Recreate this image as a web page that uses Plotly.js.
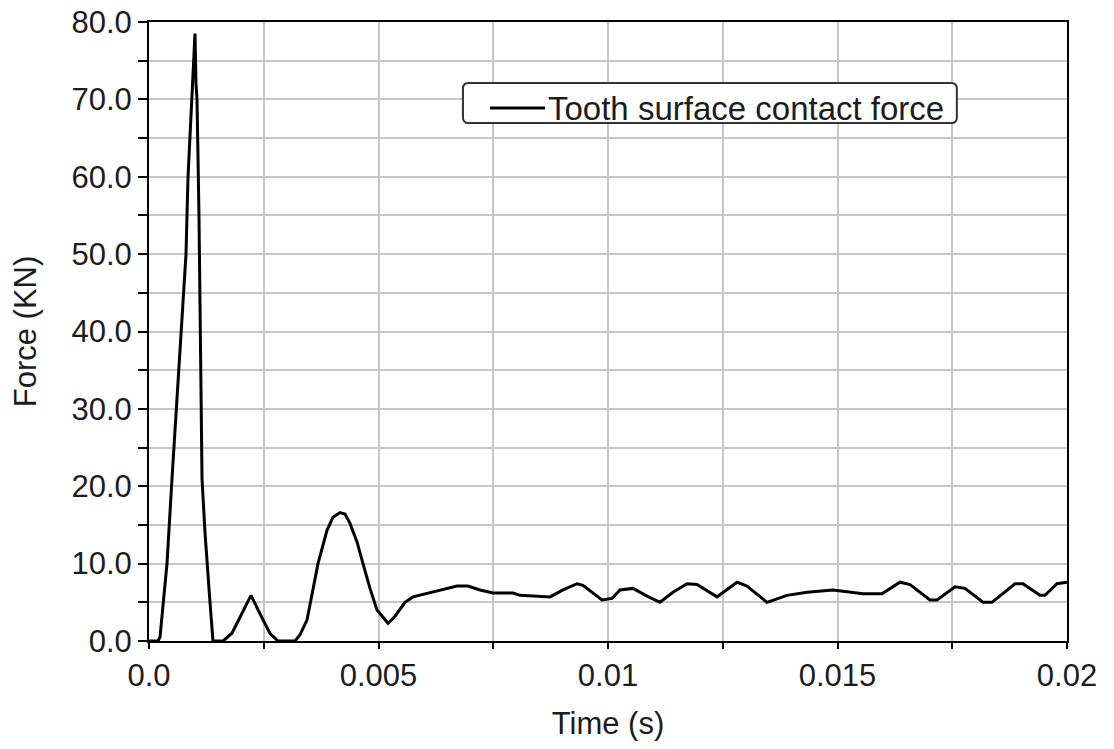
<!DOCTYPE html>
<html>
<head>
<meta charset="utf-8">
<script src="https://cdn.plot.ly/plotly-3.0.1.min.js"></script>
<style>
  html, body { margin: 0; padding: 0; background: #ffffff; }
  #chart { width: 1114px; height: 749px; }
</style>
</head>
<body>
<div id="chart"></div>
<script>
// Time (s)
const timeS = [
  0, 0.000196, 0.000240, 0.000305, 0.000392, 0.000501, 0.000654, 0.000806, 0.000850, 0.000937,
  0.000980, 0.001002, 0.001024, 0.001046, 0.001089, 0.001133, 0.001155, 0.001220, 0.001264, 0.001329,
  0.001394, 0.001612, 0.001808, 0.002026, 0.002222, 0.002462, 0.002636, 0.002810, 0.003181, 0.003290,
  0.003442, 0.003551, 0.003682, 0.003878, 0.004009, 0.004161, 0.004270, 0.004379, 0.004532, 0.004662,
  0.004815, 0.004967, 0.005207, 0.005359, 0.005577, 0.005752, 0.006187, 0.006710, 0.006950, 0.007211,
  0.007495, 0.007930, 0.008083, 0.008736, 0.009020, 0.009325, 0.009455, 0.009869, 0.010087, 0.010261,
  0.010545, 0.010850, 0.011133, 0.011416, 0.011721, 0.011939, 0.012375, 0.012810, 0.013028, 0.013464,
  0.013900, 0.014336, 0.014902, 0.015272, 0.015556, 0.015970, 0.016362, 0.016580, 0.017015, 0.017168,
  0.017560, 0.017778, 0.018170, 0.018366, 0.018867, 0.019041, 0.019412, 0.019521, 0.019782, 0.020000
];
// Tooth surface contact force (KN)
const forceKN = [
  0, 0, 0.5, 5, 10, 21, 35, 50, 60, 70,
  75, 78.5, 72, 70, 55, 35, 21, 14, 10, 5,
  0, 0, 1, 3.5, 5.9, 3.0, 1, 0, 0, 0.8,
  2.7, 6, 10, 14.3, 16.0, 16.6, 16.4, 15.2, 12.8, 10,
  6.8, 4, 2.3, 3.2, 5.0, 5.7, 6.3, 7.1, 7.1, 6.6,
  6.2, 6.2, 5.9, 5.7, 6.6, 7.4, 7.2, 5.3, 5.5, 6.6,
  6.8, 5.8, 5.0, 6.3, 7.4, 7.3, 5.7, 7.6, 7.1, 5.0,
  5.9, 6.3, 6.6, 6.3, 6.1, 6.1, 7.6, 7.3, 5.3, 5.3,
  7.0, 6.8, 5.0, 5.0, 7.4, 7.4, 5.9, 5.9, 7.4, 7.6
];
const xTickVals = [0, 0.0025, 0.005, 0.0075, 0.01, 0.0125, 0.015, 0.0175, 0.02];
const xTickText = ["0.0", "", "0.005", "", "0.01", "", "0.015", "", "0.02"];
const yTickVals = [0, 5, 10, 15, 20, 25, 30, 35, 40, 45, 50, 55, 60, 65, 70, 75, 80];
const yTickText = ["0.0", "", "10.0", "", "20.0", "", "30.0", "", "40.0", "", "50.0", "", "60.0", "", "70.0", "", "80.0"];
const seriesName = "Tooth surface contact force";

const FONT = "Liberation Sans, Arial, sans-serif";
const TXT = "#1c1c1c";

const trace = {
  x: timeS,
  y: forceKN,
  type: "scatter",
  mode: "lines",
  name: seriesName,
  line: { color: "#000000", width: 3 },
  showlegend: false
};

// legend box drawn in paper space (rounded rectangle), sample line and label
const lx0 = 0.342, lx1 = 0.880, ly0 = 0.8368, ly1 = 0.9015, rx = 0.006, ry = 0.009;
const legendPath =
  `M ${lx0 + rx} ${ly1} L ${lx1 - rx} ${ly1} Q ${lx1} ${ly1} ${lx1} ${ly1 - ry} ` +
  `L ${lx1} ${ly0 + ry} Q ${lx1} ${ly0} ${lx1 - rx} ${ly0} ` +
  `L ${lx0 + rx} ${ly0} Q ${lx0} ${ly0} ${lx0} ${ly0 + ry} ` +
  `L ${lx0} ${ly1 - ry} Q ${lx0} ${ly1} ${lx0 + rx} ${ly1} Z`;

const layout = {
  width: 1114,
  height: 749,
  margin: { l: 149, r: 47, t: 22, b: 108, pad: 0 },
  paper_bgcolor: "#ffffff",
  plot_bgcolor: "#ffffff",
  font: { family: FONT, color: TXT, size: 31 },
  showlegend: false,
  xaxis: {
    range: [0, 0.02],
    tickvals: xTickVals,
    ticktext: xTickText,
    ticks: "outside",
    ticklen: 6,
    tickwidth: 2,
    tickcolor: "#000",
    showgrid: true,
    gridcolor: "#c6c6c6",
    gridwidth: 2,
    showline: true,
    linecolor: "#000",
    linewidth: 2,
    mirror: true,
    zeroline: false,
    tickfont: { family: FONT, size: 31, color: TXT },
    title: { text: "Time (s)", font: { family: FONT, size: 31, color: TXT }, standoff: 20 },
    automargin: false
  },
  yaxis: {
    range: [0, 80],
    tickvals: yTickVals,
    ticktext: yTickText,
    ticks: "outside",
    ticklen: 9,
    tickwidth: 2,
    tickcolor: "#000",
    showgrid: true,
    gridcolor: "#c6c6c6",
    gridwidth: 2,
    showline: true,
    linecolor: "#000",
    linewidth: 2,
    mirror: true,
    zeroline: false,
    tickfont: { family: FONT, size: 31, color: TXT },
    title: { text: "Force (KN)", font: { family: FONT, size: 31, color: TXT }, standoff: 26 },
    automargin: false
  },
  shapes: [
    {
      type: "path", xref: "paper", yref: "paper", path: legendPath,
      fillcolor: "#ffffff", line: { color: "#333333", width: 2 }, layer: "above"
    },
    {
      type: "line", xref: "paper", yref: "paper",
      x0: 0.3715, x1: 0.4314, y0: 0.861, y1: 0.861,
      line: { color: "#000000", width: 3 }, layer: "above"
    }
  ],
  annotations: [
    {
      xref: "paper", yref: "paper", x: 0.4325, y: 0.860,
      xanchor: "left", yanchor: "middle", showarrow: false,
      text: seriesName,
      font: { family: FONT, size: 33, color: TXT }
    }
  ]
};

Plotly.newPlot("chart", [trace], layout, { staticPlot: true, displayModeBar: false });
</script>
</body>
</html>
